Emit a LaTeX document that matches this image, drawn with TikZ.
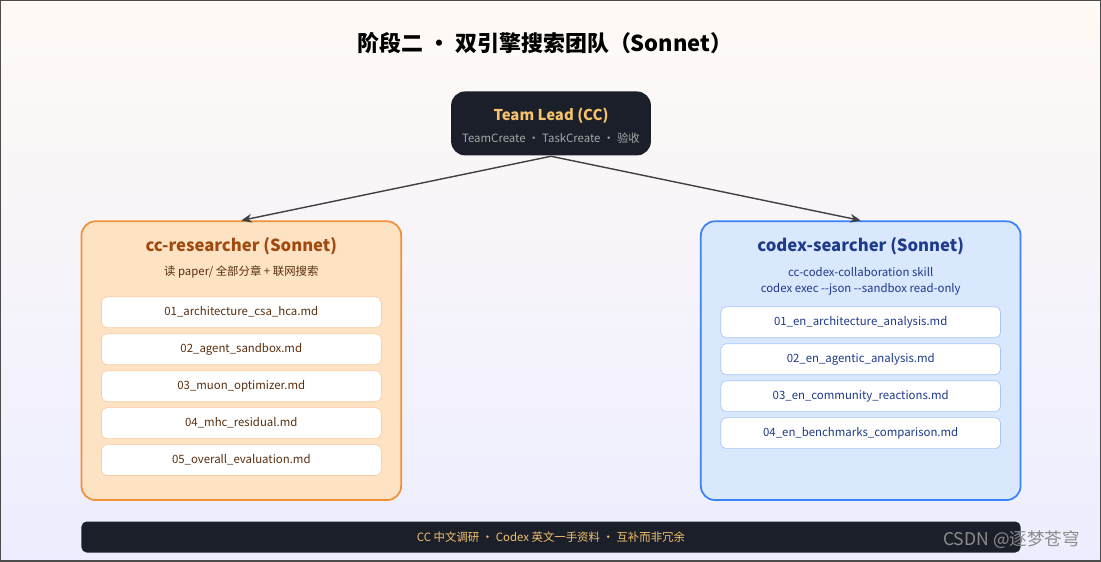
\documentclass[tikz,border=0pt]{standalone}
\usepackage{fontspec}
\setmainfont{Noto Sans CJK SC}
\usetikzlibrary{arrows.meta}
\definecolor{darkbar}{HTML}{1B1F2A}
\definecolor{gold}{HTML}{F5C26B}
\definecolor{orangefill}{HTML}{FDE3C3}
\definecolor{orangeline}{HTML}{F0913A}
\definecolor{orangetext}{HTML}{A04A10}
\definecolor{browntext}{HTML}{5A3010}
\definecolor{bluefill}{HTML}{D9E8FD}
\definecolor{blueline}{HTML}{3B82F6}
\definecolor{bluetext}{HTML}{1E3A8A}
\begin{document}
\begin{tikzpicture}
  [x=0.02cm,y=-0.02cm,every node/.style={inner sep=0pt,font=\fontsize{6.5}{8}\selectfont},
   panel/.style={draw,rounded corners=8pt,line width=1pt,inner sep=0pt},
   litem/.style={draw=orangeline!45,fill=white,rounded corners=3pt,minimum width=280*0.02cm,minimum height=31*0.02cm,text=browntext},
   ritem/.style={draw=blueline!45,fill=white,rounded corners=3pt,minimum width=280*0.02cm,minimum height=31*0.02cm,text=bluetext},
   flow/.style={-{Stealth[length=6pt,width=5pt]},line width=0.8pt,draw=black!75}]
  % background
  \shade[top color=orange!4,bottom color=blue!7] (0,0) rectangle (1101,561);
  \draw[black!70,line width=0.6pt] (0,0) rectangle (1101,561);
  \node (title) at (545,43) {\fontsize{12.5}{14}\selectfont\bfseries 阶段二 · 双引擎搜索团队（Sonnet）};

  % lead
  \node[panel,draw=none,fill=darkbar,minimum width=200*0.02cm,minimum height=64*0.02cm] (lead) at (551,123) {};
  \node[text=gold] (leadname) at (551,115) {\fontsize{8.5}{10}\selectfont\bfseries Team Lead (CC)};
  \node[text=black!35] (leadsub) at (551,138) {TeamCreate · TaskCreate · 验收};

  % two teams
  \node[panel,draw=orangeline,fill=orangefill,minimum width=320*0.02cm,minimum height=279*0.02cm] (cc) at (241,360.5) {};
  \node[panel,draw=blueline,fill=bluefill,minimum width=320*0.02cm,minimum height=279*0.02cm] (codex) at (861,360.5) {};
  \node[text=orangetext] (ccname) at (241,246) {\fontsize{9.5}{11}\selectfont\bfseries cc-researcher (Sonnet)};
  \node[text=browntext] (ccsub) at (241,272) {读 paper/ 全部分章 + 联网搜索};
  \node[text=bluetext] (codexname) at (861,246) {\fontsize{9.5}{11}\selectfont\bfseries codex-searcher (Sonnet)};
  \node[text=bluetext] (codexsub1) at (861,272) {cc-codex-collaboration skill};
  \node[text=bluetext] (codexsub2) at (861,289) {codex exec -{}-json -{}-sandbox read-only};

  \foreach \y/\f [count=\i] in {312/01\_architecture\_csa\_hca.md,349/02\_agent\_sandbox.md,
    386/03\_muon\_optimizer.md,423/04\_mhc\_residual.md,460/05\_overall\_evaluation.md}
    \node[litem] (cc\i) at (241,\y) {\f};
  \foreach \y/\f [count=\i] in {322/01\_en\_architecture\_analysis.md,359/02\_en\_agentic\_analysis.md,
    396/03\_en\_community\_reactions.md,433/04\_en\_benchmarks\_comparison.md}
    \node[ritem] (codex\i) at (861,\y) {\f};

  \draw[flow] (lead.south) -- (cc.north);
  \draw[flow] (lead.south) -- (codex.north);

  % footer
  \node[fill=darkbar,rounded corners=3pt,minimum width=940*0.02cm,minimum height=31*0.02cm,text=gold] (note) at (551,537)
    {CC 中文调研 · Codex 英文一手资料 · 互补而非冗余};
  \node[text=black!45] (mark) at (1012,540) {\fontsize{10}{12}\selectfont CSDN @逐梦苍穹};
\end{tikzpicture}
\end{document}
